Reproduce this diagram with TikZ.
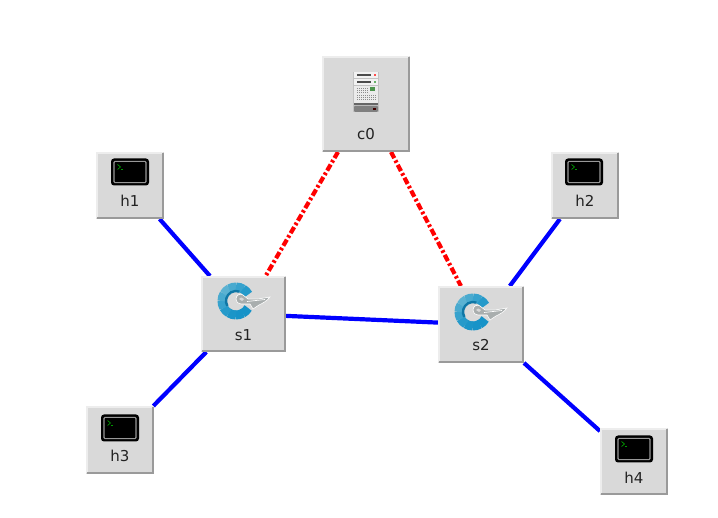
\documentclass[tikz,border=0pt]{standalone}
\usepackage{fontspec}
\setmainfont{DejaVu Sans}
\usetikzlibrary{backgrounds}
\definecolor{boxg}{HTML}{D9D9D9}
\definecolor{bevd}{HTML}{9A9A9A}
\definecolor{ringa}{HTML}{1793C8}
\definecolor{ringb}{HTML}{5FB4D2}
\definecolor{ringc}{HTML}{0F77A6}
\definecolor{keyg}{HTML}{A9AEAE}
\definecolor{txtc}{HTML}{222222}
\tikzset{
  x=1pt,y=-1pt,
  devbox/.style={fill=boxg,draw=none,inner sep=0pt,outer sep=0pt,rectangle},
  devlabel/.style={font=\fontsize{15}{15}\selectfont,text=txtc,inner sep=0pt,anchor=center},
  datalink/.style={draw=blue,line width=4.2pt},
  ctrllink/.style={draw=red,line width=4.2pt,dash pattern=on 7pt off 2.5pt on 2.5pt off 2.5pt},
  pics/terminal/.style={code={
    \fill[black,rounded corners=3pt] (-19,-13.5) rectangle (19,13.5);
    \draw[boxg!70!black,line width=1.2pt,rounded corners=1pt] (-16,-10.5) rectangle (16,10.5);
    \fill[black] (-15.4,-9.9) rectangle (15.4,9.9);
    \draw[green!60!black,line width=.7pt] (-12.5,-7.5) -- (-9.5,-5) -- (-12.5,-2.5);
    \draw[green!60!black,line width=.7pt] (-9,-2.5) -- (-7,-2.5);
  }},
  pics/switchicon/.style={code={
    \begin{scope}[shift={(-8,0)},line width=9pt]
      \foreach \a/\m in {30/0,60/0,90/5,120/20,150/45,180/70,210/95,240/70,270/45,300/20}{
        \pgfmathsetmacro{\e}{\a+32}
        \draw[ringb!\m!ringa] (\a:14) arc[start angle=\a,end angle=\e,radius=14];
      }
      \draw[ringc,line width=2.4pt] (150:10) arc[start angle=150,end angle=290,radius=10];
    \end{scope}
    \fill[keyg,draw=white,line width=.6pt] (-8,-2) .. controls (-8,-6) and (-4,-8) .. (-1,-6) -- (4,-2) -- (14,-2) -- (26,-4) .. controls (23,0) and (19,2) .. (15,4) -- (9,8) -- (6,3) -- (-3,3) .. controls (-6,3) and (-8,1) .. (-8,-2) -- cycle;
    \fill[boxg] (-5,-2) .. controls (-4,-4) and (-2,-4) .. (0,-2) -- (-2,0) -- cycle;
    \draw[white,line width=.7pt] (3,0.5) -- (21,-1.5);
  }},
  pics/servericon/.style={code={
    \fill[bevd!60] (-13,-20) rectangle (13,20);
    \fill[white!95!black] (-12,-20) rectangle (12,-13.5);
    \fill[white!95!black] (-12,-12.5) rectangle (12,-7);
    \fill[white!92!black] (-12,-6) rectangle (12,11);
    \fill[black!70] (-9,-17.5) rectangle (5,-16);
    \fill[black!70] (-9,-10.5) rectangle (5,-9);
    \fill[red!70] (8,-18) rectangle (10,-16);
    \fill[green!50!black!60] (8,-11) rectangle (10,-9);
    \fill[green!40!black!70] (4,-4.5) rectangle (9,-1);
    \foreach \r in {-4,-2,0,3,5,7}{
      \foreach \c in {-9,-7,-5,-3,-1,1}{
        \fill[black!45] (\c,\r) rectangle ++(1.1,1.1);
      }
    }
    \foreach \c in {3,5,7,9}{
      \fill[black!45] (\c,3) rectangle ++(1.1,1.1);
      \fill[black!45] (\c,5) rectangle ++(1.1,1.1);
      \fill[black!45] (\c,7) rectangle ++(1.1,1.1);
    }
    \fill[black!60] (-12,11) rectangle (12,13);
    \fill[black!50,rounded corners=1pt] (-12,14) rectangle (12,20);
    \fill[black!75!red] (7,16) rectangle (10,18);
  }},
}
\newcommand{\bevelbox}[6]{% name, x1,y1,x2,y2,text y
  \node[devbox,minimum width=#4pt-#2pt,minimum height=#5pt-#3pt] (#1) at ({(#2+#4)/2},{(#3+#5)/2}) {};
  \draw[white!93!black,line width=1.6pt] (#2+.8,#5-.8) -- (#2+.8,#3+.8) -- (#4-.8,#3+.8);
  \draw[bevd,line width=1.6pt] (#2+.8,#5-.8) -- (#4-.8,#5-.8) -- (#4-.8,#3+.8);
  \node[devlabel] (#1text) at ({(#2+#4)/2},#6) {#1};
}
\begin{document}
\begin{tikzpicture}
\useasboundingbox (0,0) rectangle (718,518);

\bevelbox{c0}{322}{56}{410}{152}{134}
\bevelbox{h1}{96}{152}{164}{219}{201}
\bevelbox{h2}{551}{152}{619}{219}{201}
\bevelbox{s1}{201}{276}{286}{352}{335}
\bevelbox{s2}{438}{286}{524}{363}{345}
\bevelbox{h3}{86}{406}{154}{474}{456}
\bevelbox{h4}{600}{428}{668}{495}{478}

\pic at (366,92) {servericon};
\pic at (130,172) {terminal};
\pic at (584,172) {terminal};
\pic at (120,428) {terminal};
\pic at (634,449) {terminal};
\pic at (244,301) {switchicon};
\pic at (481,312) {switchicon};

\begin{scope}[on background layer]
  \draw[datalink] (h1) -- (s1);
  \draw[datalink] (h3) -- (s1);
  \draw[datalink] (s1) -- (s2);
  \draw[datalink] (h2) -- (s2);
  \draw[datalink] (s2) -- (h4);
  \draw[ctrllink] (c0) -- (s1);
  \draw[ctrllink] (c0) -- (s2);
\end{scope}
\end{tikzpicture}
\end{document}
